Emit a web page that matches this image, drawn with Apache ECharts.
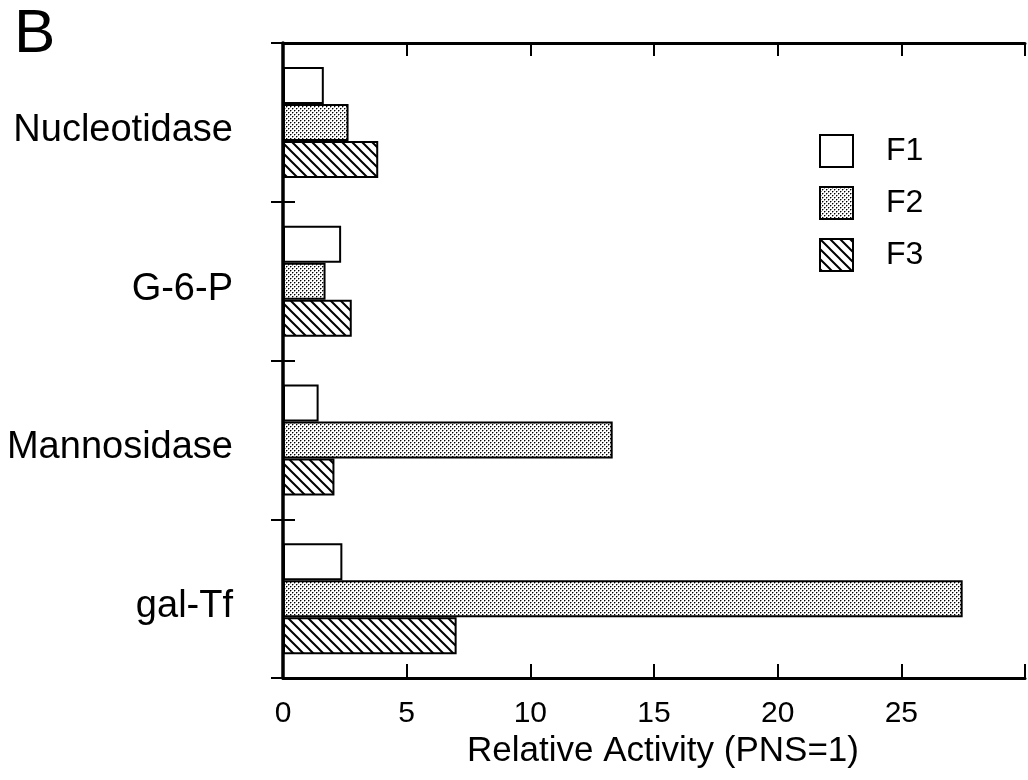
<!DOCTYPE html>
<html>
<head>
<meta charset="utf-8">
<script src="https://cdn.jsdelivr.net/npm/echarts@6/dist/echarts.min.js"></script>
<style>
  html, body { margin: 0; padding: 0; background: #fff; }
  #chart { width: 1028px; height: 780px; }
</style>
</head>
<body>
<div id="chart"></div>
<script>
// Enzyme activity in each fraction, relative to the post-nuclear supernatant
const categories = ['Nucleotidase', 'G-6-P', 'Mannosidase', 'gal-Tf'];
const seriesNames = ['F1', 'F2', 'F3'];
const f1Values = [1.65, 2.35, 1.44, 2.4];
const f2Values = [2.65, 1.72, 13.33, 27.48];
const f3Values = [3.85, 2.78, 2.08, 7.02];
const xTickLabels = ['0', '5', '10', '15', '20', '25', ''];

const FONT = 'Liberation Sans, Arial, Helvetica, sans-serif';

// Fine stipple fill
function stipplePattern() {
  const c = document.createElement('canvas');
  c.width = 4; c.height = 4;
  const g = c.getContext('2d');
  g.fillStyle = '#fff';
  g.fillRect(0, 0, 4, 4);
  g.fillStyle = '#000';
  g.fillRect(0, 0, 1, 1);
  g.fillRect(2, 2, 1, 1);
  g.fillStyle = '#999';
  g.fillRect(1, 0, 1, 1);
  g.fillRect(3, 2, 1, 1);
  g.fillRect(0, 1, 1, 1);
  g.fillRect(2, 3, 1, 1);
  return c;
}

// Diagonal hatch running top-left to bottom-right
function hatchPattern() {
  const s = 10;
  const c = document.createElement('canvas');
  c.width = s; c.height = s;
  const g = c.getContext('2d');
  g.fillStyle = '#fff';
  g.fillRect(0, 0, s, s);
  g.strokeStyle = '#000';
  g.lineWidth = 2;
  g.beginPath();
  g.moveTo(-2, -2); g.lineTo(s + 2, s + 2);
  g.moveTo(-2, s - 2); g.lineTo(2, s + 2);
  g.moveTo(s - 2, -2); g.lineTo(s + 2, 2);
  g.stroke();
  return c;
}

const fills = [
  '#ffffff',
  { image: stipplePattern(), repeat: 'repeat' },
  { image: hatchPattern(), repeat: 'repeat' }
];
const valuesBySeries = [f1Values, f2Values, f3Values];

const chart = echarts.init(document.getElementById('chart'), null, { renderer: 'canvas' });

const axisLineStyle = { color: '#000', width: 3 };

chart.setOption({
  animation: false,
  backgroundColor: '#fff',
  title: {
    text: 'B',
    left: 9,
    top: -1,
    textStyle: { fontFamily: FONT, fontSize: 62, fontWeight: 'normal', color: '#000' }
  },
  legend: {
    orient: 'vertical',
    left: 814,
    top: 129,
    itemWidth: 33,
    itemHeight: 32,
    itemGap: 18,
    icon: 'rect',
    data: seriesNames,
    textStyle: { fontFamily: FONT, fontSize: 32, color: '#000', padding: [0, 0, 0, 28] },
    itemStyle: { borderColor: '#000', borderWidth: 2 }
  },
  grid: { left: 283, right: 1, top: 43, bottom: 102, containLabel: false },
  xAxis: [
    {
      type: 'value',
      position: 'bottom',
      min: 0,
      max: 30,
      interval: 5,
      axisLine: { show: true, lineStyle: axisLineStyle },
      axisTick: { show: true, inside: true, length: 14, lineStyle: { color: '#000', width: 2 } },
      axisLabel: {
        fontFamily: FONT, fontSize: 30, color: '#000', margin: 21,
        formatter: (v) => xTickLabels[Math.round(v / 5)]
      },
      splitLine: { show: false },
      name: 'Relative Activity (PNS=1)',
      nameLocation: 'middle',
      nameGap: 56,
      nameTextStyle: { fontFamily: FONT, fontSize: 35, color: '#000', padding: [0, 0, 0, 18] }
    },
    {
      type: 'value',
      position: 'top',
      min: 0,
      max: 30,
      interval: 5,
      axisLine: { show: true, lineStyle: axisLineStyle },
      axisTick: { show: true, inside: true, length: 13, lineStyle: { color: '#000', width: 2 } },
      axisLabel: { show: false },
      splitLine: { show: false }
    }
  ],
  yAxis: [
    {
      type: 'category',
      data: categories,
      inverse: true,
      position: 'left',
      axisLine: { show: true, lineStyle: { color: '#000', width: 3.5 } },
      axisTick: { show: true, inside: true, length: 12, lineStyle: { color: '#000', width: 2 } },
      axisLabel: {
        margin: 50,
        formatter: (v) => '{lab|' + v + '}',
        rich: {
          lab: { fontFamily: FONT, fontSize: 38, color: '#000', padding: [16, 0, 0, 0] }
        }
      }
    },
    {
      type: 'category',
      data: categories,
      inverse: true,
      position: 'right',
      axisLine: { show: true, lineStyle: { color: '#000', width: 2 } },
      axisTick: { show: true, inside: true, length: 12, lineStyle: { color: '#000', width: 2 } },
      axisLabel: { show: false }
    }
  ],
  series: seriesNames.map((name, i) => ({
    name: name,
    type: 'bar',
    xAxisIndex: 0,
    yAxisIndex: 0,
    data: valuesBySeries[i],
    barWidth: 37,
    barGap: '0%',
    itemStyle: { color: fills[i], borderColor: '#000', borderWidth: 2 },
    emphasis: { disabled: true }
  }))
});
</script>
</body>
</html>
